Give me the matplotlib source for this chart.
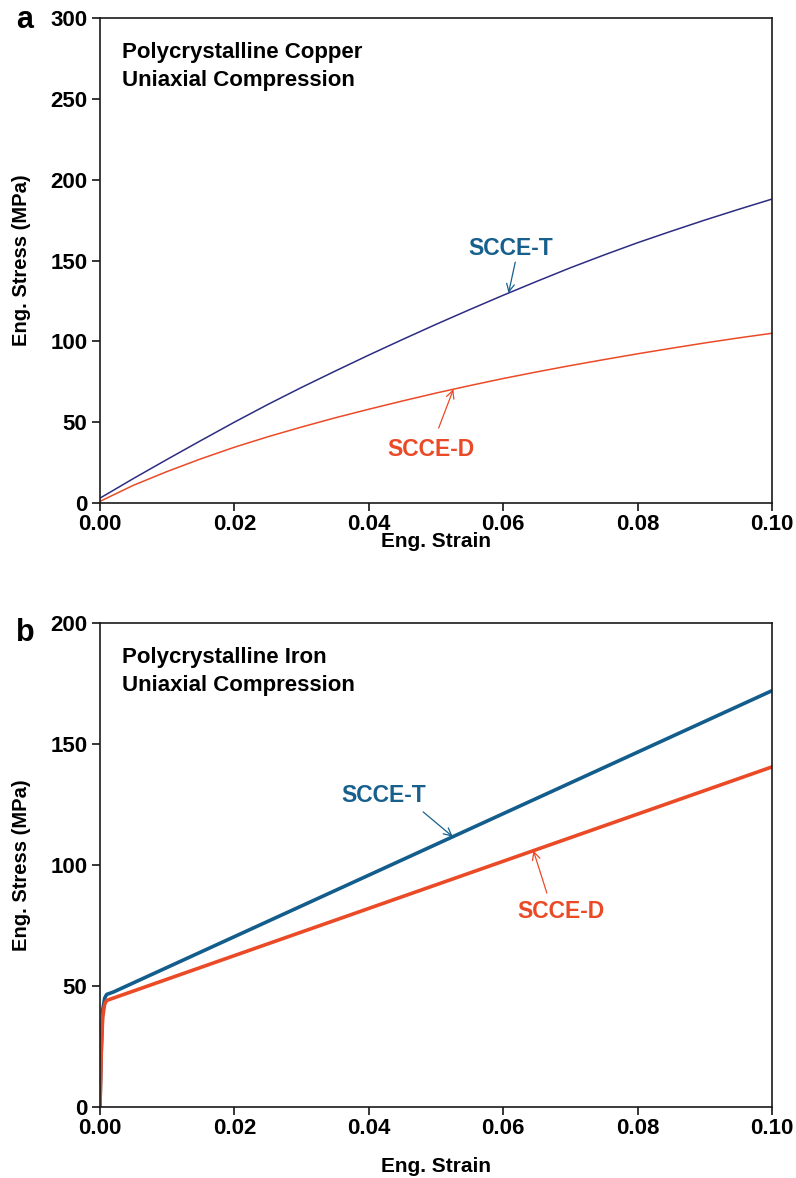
"""Engineering stress-strain curves under uniaxial compression: copper (a) and iron (b)."""
import matplotlib
matplotlib.use("Agg")
import matplotlib.pyplot as plt
import numpy as np

plt.rcParams["font.family"] = ["Liberation Sans", "DejaVu Sans"]
plt.rcParams["font.weight"] = "bold"

# (a) polycrystalline copper
CU_STRAIN = [0.0, 0.005, 0.01, 0.015, 0.02, 0.025, 0.03, 0.035, 0.04, 0.045,
             0.05, 0.055, 0.06, 0.065, 0.07, 0.075, 0.08, 0.085, 0.09, 0.095,
             0.10]
CU_T = [3, 15.2, 27, 38.6, 50, 61, 71.5, 81.6, 91.5, 101.1, 110.5, 119.6,
        128.5, 137.1, 145.5, 153.4, 161, 168.1, 175, 181.6, 188]
CU_D = [1, 11, 19.5, 27.3, 34.5, 41, 47, 52.7, 58, 63.1, 68, 72.6, 77, 81.1,
        85, 88.7, 92.3, 95.7, 99, 102.1, 105]

# (b) polycrystalline iron
FE_STRAIN = [0.0, 0.0002, 0.0004, 0.0007, 0.001, 0.002, 0.10]
FE_T = [0, 25, 40, 45, 46.5, 47.5, 172]
FE_D = [0, 23, 37, 42.5, 44, 45, 140.5]

X_TICKS = [0.0, 0.02, 0.04, 0.06, 0.08, 0.10]
CU_Y_TICKS = [0, 50, 100, 150, 200, 250, 300]
FE_Y_TICKS = [0, 50, 100, 150, 200]

INDIGO = "#2e2c82"
STEEL = "#135d8c"
ORANGE = "#eb4a27"
LABEL_BLUE = "#17608e"


def style_axes(ax, yticks, xpad):
    ax.set_xlim(0, 0.1)
    ax.set_ylim(yticks[0], yticks[-1])
    ax.set_xticks(X_TICKS)
    ax.set_xticklabels([f"{t:.2f}" for t in X_TICKS])
    ax.set_yticks(yticks)
    ax.tick_params(direction="out", length=6, width=1.1, labelsize=16,
                   pad=3, top=False, right=False)
    ax.tick_params(axis="x", pad=2)
    for s in ax.spines.values():
        s.set_linewidth(1.2)
        s.set_color("#1a1a1a")
    ax.set_xlabel("Eng. Strain", fontsize=15, fontweight="bold",
                  labelpad=xpad)
    ax.set_ylabel("Eng. Stress (MPa)", fontsize=14.5, fontweight="bold",
                  labelpad=14)


def label(ax, text, xy, xytext, txt_pos, color, strain, stress):
    # arrow head sits on the curve at the given strain
    head = (xy, float(np.interp(xy, strain, stress)))
    ax.annotate("", xy=head, xytext=xytext,
                arrowprops=dict(arrowstyle="->", color=color, lw=0.9,
                                shrinkA=0, shrinkB=0, mutation_scale=14))
    ax.text(*txt_pos, text, color=color, fontsize=16.5, fontweight="bold",
            ha="center", va="center")


fig = plt.figure(figsize=(7.96, 11.78), dpi=100)
ax1 = fig.add_axes([0.1256, 0.5730, 0.8442, 0.4117])
ax2 = fig.add_axes([0.1256, 0.0603, 0.8442, 0.4109])

ax1.plot(CU_STRAIN, CU_T, color=INDIGO, lw=1.1)
ax1.plot(CU_STRAIN, CU_D, color=ORANGE, lw=1.1)
style_axes(ax1, CU_Y_TICKS, xpad=-2)
ax1.text(0.033, 0.950, "Polycrystalline Copper\nUniaxial Compression",
         transform=ax1.transAxes, fontsize=16, fontweight="bold",
         va="top", ha="left", linespacing=1.42)
label(ax1, "SCCE-T", 0.0608, (0.0618, 149), (0.0611, 157.7), LABEL_BLUE,
      CU_STRAIN, CU_T)
label(ax1, "SCCE-D", 0.0526, (0.0504, 46.4), (0.0493, 32.8), ORANGE,
      CU_STRAIN, CU_D)

ax2.plot(FE_STRAIN, FE_T, color=STEEL, lw=2.6)
ax2.plot(FE_STRAIN, FE_D, color=ORANGE, lw=2.6)
style_axes(ax2, FE_Y_TICKS, xpad=13)
ax2.text(0.033, 0.950, "Polycrystalline Iron\nUniaxial Compression",
         transform=ax2.transAxes, fontsize=16, fontweight="bold",
         va="top", ha="left", linespacing=1.42)
label(ax2, "SCCE-T", 0.0525, (0.0481, 121.9), (0.0423, 128.9), LABEL_BLUE,
      FE_STRAIN, FE_T)
label(ax2, "SCCE-D", 0.0645, (0.0665, 88.4), (0.0686, 80.6), ORANGE,
      FE_STRAIN, FE_D)

fig.text(25 / 796, 1 - 20 / 1178, "a", fontsize=22, fontweight="bold",
         ha="center", va="center")
fig.text(25 / 796, 1 - 633 / 1178, "b", fontsize=22, fontweight="bold",
         ha="center", va="center")

fig.savefig("out.png", dpi=100)
